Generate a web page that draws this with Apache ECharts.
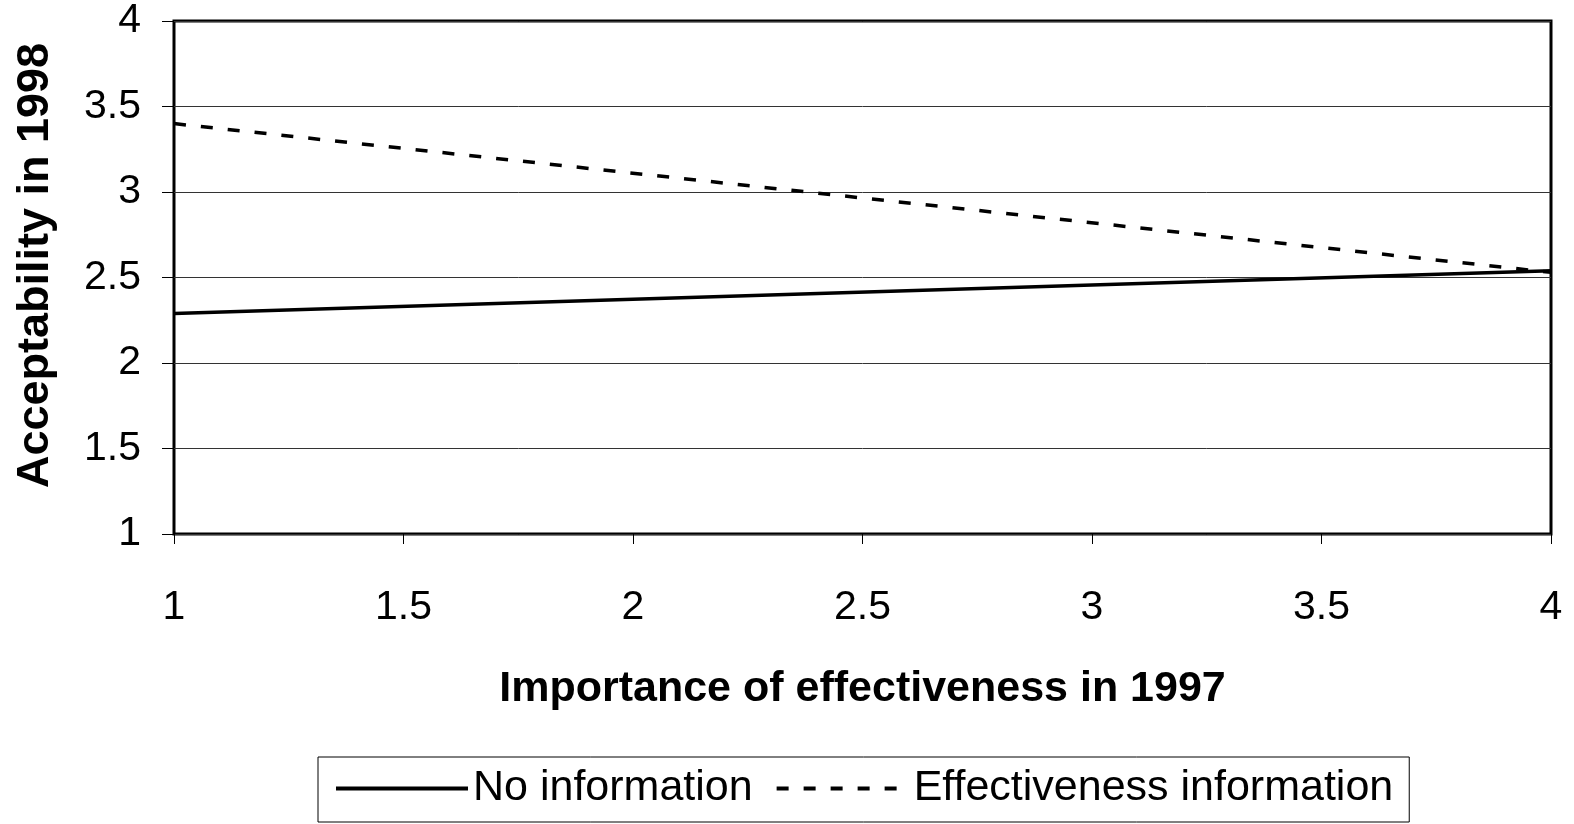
<!DOCTYPE html>
<html>
<head>
<meta charset="utf-8">
<script src="https://cdn.jsdelivr.net/npm/echarts@6/dist/echarts.min.js"></script>
<style>
  html, body { margin: 0; padding: 0; background: #fff; }
  #chart { width: 1574px; height: 824px; }
</style>
</head>
<body>
<div id="chart"></div>
<script>
document.addEventListener('DOMContentLoaded', function() {

    const xValues = [1, 4];
    const noInfo = [2.29, 2.54];
    const effInfo = [3.40, 2.53];
    const seriesNames = ['No information', 'Effectiveness information'];

    const font = "'Liberation Sans', Arial, sans-serif";

    const pairs = (xs, ys) => xs.map((x, i) => [x, ys[i]]);

    const chart = echarts.init(document.getElementById('chart'));

    chart.setOption({
        animation: false,
        textStyle: { fontFamily: font, color: '#000' },
        grid: {
            left: 174,
            right: 23,
            top: 21,
            bottom: 290,
            outerBoundsMode: 'none',
            containLabel: false,
            show: true,
            borderColor: '#000',
            borderWidth: 3
        },
        xAxis: {
            type: 'value',
            min: 1,
            max: 4,
            interval: 0.5,
            name: 'Importance of effectiveness in 1997',
            nameLocation: 'middle',
            nameGap: 134,
            nameTextStyle: { fontSize: 43, fontWeight: 'bold', color: '#000', fontFamily: font },
            axisLine: { show: false },
            axisTick: { show: true, length: 10, lineStyle: { color: '#000', width: 1 } },
            axisLabel: { fontSize: 41, color: '#000', margin: 53, fontFamily: font },
            splitLine: { show: false }
        },
        yAxis: {
            type: 'value',
            min: 1,
            max: 4,
            interval: 0.5,
            name: 'Acceptability in 1998',
            nameLocation: 'middle',
            nameGap: 116,
            nameTextStyle: { fontSize: 45, fontWeight: 'bold', color: '#000', fontFamily: font, padding: [0, 0, 0, 24] },
            axisLine: { show: false },
            axisTick: { show: true, length: 12, lineStyle: { color: '#000', width: 1 } },
            axisLabel: { fontSize: 41, color: '#000', margin: 33, fontFamily: font },
            splitLine: { show: true, lineStyle: { color: '#333', width: 1 } }
        },
        legend: {
            left: 318,
            top: 757,
            padding: [10, 16, 12, 16],
            borderColor: '#000',
            borderWidth: 1,
            itemWidth: 132,
            itemHeight: 12,
            itemGap: 22,
            itemStyle: { opacity: 0 },
            lineStyle: { width: 4 },
            textStyle: { fontSize: 43, color: '#000', fontFamily: font },
            data: seriesNames
        },
        series: [
            {
                name: seriesNames[0],
                type: 'line',
                data: pairs(xValues, noInfo),
                symbol: 'none',
                lineStyle: { color: '#000', width: 3.5, type: 'solid' },
                itemStyle: { color: '#000' }
            },
            {
                name: seriesNames[1],
                type: 'line',
                data: pairs(xValues, effInfo),
                symbol: 'none',
                lineStyle: { color: '#000', width: 3.5, type: [12, 15] },
                itemStyle: { color: '#000' }
            }
        ]
    });

});
</script>
</body>
</html>
